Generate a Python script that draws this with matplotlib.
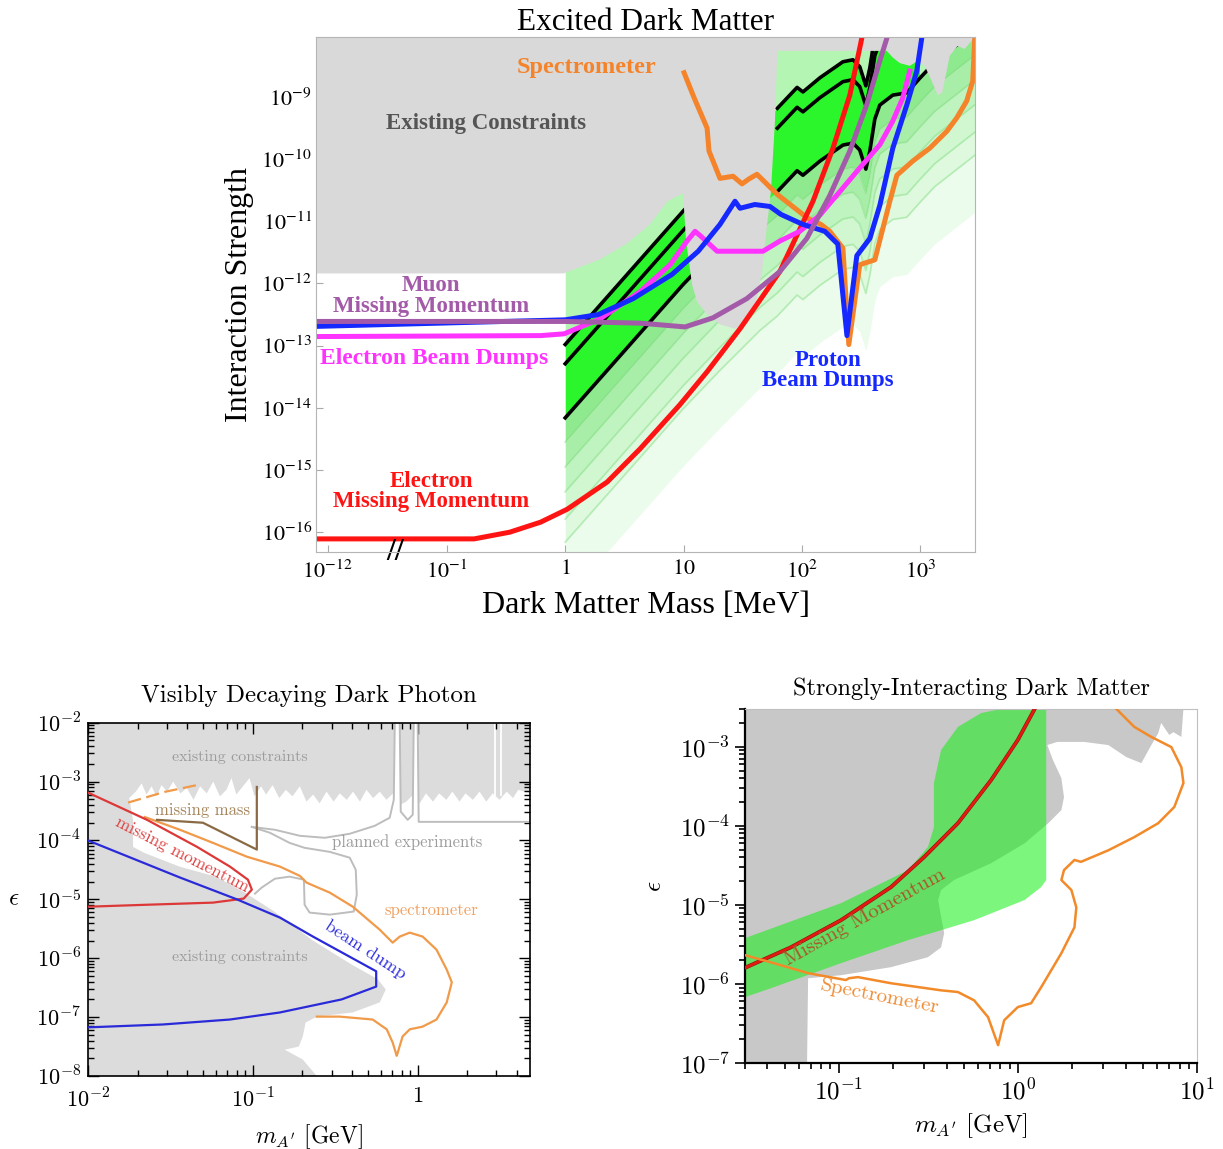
import numpy as np
import matplotlib
matplotlib.use('Agg')
import matplotlib.pyplot as plt
from matplotlib import patheffects as pe
from matplotlib import transforms
from matplotlib.ticker import LogLocator, NullLocator, NullFormatter

plt.rcParams['font.family'] = 'Liberation Serif'
plt.rcParams['mathtext.fontset'] = 'cm'

# ---------------- top panel: excited dark matter (mass in MeV) ----------------
red_mass = [8.5e-14, 0.17, 0.34, 0.62, 1.04, 2.26, 4.3, 9.3, 15.8, 30, 65, 124, 183, 254, 321]
red_strength = [7.8e-17, 7.8e-17, 1.0e-16, 1.45e-16, 2.34e-16, 6.4e-16, 2.2e-15, 1.12e-14,
                3.8e-14, 1.87e-13, 1.55e-12, 2.1e-11, 1.5e-10, 1.07e-9, 8.9e-9]

blue_mass = [8.5e-14, 1.0, 1.9, 3.75, 8.0, 13.3, 20.3, 27.2, 30, 40, 53.7, 66.5, 102, 156,
             201, 240, 291, 375, 455, 586, 769, 934, 1030]
blue_strength = [2.04e-13, 2.6e-13, 3.16e-13, 5.7e-13, 1.4e-12, 3.3e-12, 8.9e-12, 2.1e-11,
                 1.62e-11, 1.86e-11, 1.73e-11, 1.29e-11, 8.9e-12, 6.9e-12, 4.3e-12, 1.45e-13,
                 2.8e-12, 5.3e-12, 1.8e-11, 1.5e-10, 7.4e-10, 2.6e-9, 8.9e-9]

magenta_mass = [8.5e-14, 0.62, 0.98, 1.97, 4.3, 7.7, 10.7, 12.5, 13.8, 19.2, 46.9, 65, 96,
                142, 209, 308, 455, 586, 711, 815]
magenta_strength = [1.4e-13, 1.45e-13, 1.55e-13, 2.7e-13, 7.4e-13, 2.0e-12, 4.8e-12, 6.9e-12,
                    5.9e-12, 3.3e-12, 3.3e-12, 4.8e-12, 6.9e-12, 1.26e-11, 3.0e-11, 7.2e-11,
                    1.7e-10, 4.1e-10, 9.6e-10, 2.6e-9]

purple_mass = [8.5e-14, 1.0, 4.3, 10.3, 17.7, 34.2, 65, 110, 172, 254, 352, 455, 523]
purple_strength = [2.45e-13, 2.45e-13, 2.3e-13, 2.0e-13, 2.8e-13, 5.7e-13, 1.55e-12, 5.3e-12,
                   2.6e-11, 1.35e-10, 7.4e-10, 3.8e-9, 8.9e-9]

orange_mass = [10.1, 12.3, 15.8, 16.4, 20.3, 26.2, 31.2, 35.7, 41.7, 62, 87, 112, 145, 172,
               222, 249, 308, 413, 553, 634, 864, 1203, 1675, 2033, 2467, 2775, 2885]
orange_strength = [2.45e-9, 9.6e-10, 3.16e-10, 1.35e-10, 4.9e-11, 5.3e-11, 4.0e-11, 4.8e-11,
                   5.7e-11, 2.7e-11, 1.63e-11, 1.12e-11, 8.9e-12, 6.9e-12, 3.7e-12, 1.04e-13,
                   2.0e-12, 2.4e-12, 2.1e-11, 5.5e-11, 9.3e-11, 1.5e-10, 2.8e-10, 4.6e-10,
                   8.6e-10, 1.8e-9, 8.9e-9]

# lowest black contour of the thermal-target band; other contours are offsets of it (decades)
band_mass = [1.0, 9.9, 20.3, 44, 62, 91, 102, 142, 222, 270, 308, 347, 375, 413, 455, 586,
             769, 991, 1324, 2885]
band_strength = [6.9e-15, 9.6e-13, 4.0e-12, 1.74e-11, 3.0e-11, 6.5e-11, 5.5e-11, 9.3e-11,
                 1.68e-10, 1.81e-10, 1.40e-10, 6.9e-11, 1.35e-10, 4.4e-10, 7.4e-10, 1.07e-9,
                 1.16e-9, 2.0e-9, 3.6e-9, 1.15e-8]
contour_offsets_low = [1.18, 0.87, 0.0]    # below 60 MeV
contour_offsets_high = [1.34, 1.02, 0.0]   # above 60 MeV
fade_offsets = [0.0, -0.39, -0.79, -1.19, -1.63, -2.0, -2.92]
fade_colors = ['#8fe98f', '#a8eea8', '#bff3bf', '#d0f7d0', '#def9de', '#ecfcec']

gray_mass = [8.5e-14, 0.97, 1.97, 3.33, 5.2, 7.3, 9.9, 10.5, 11.8, 13.0, 15.8, 20.3, 27.2, 35,
             41.7, 46, 50.7, 54.7, 59.2, 62, 521, 586, 671, 815, 952, 1091, 1250, 1405, 1530,
             1640, 1775, 2070, 2375, 2620, 2900]
gray_strength = [1.45e-12, 1.45e-12, 2.45e-12, 4.4e-12, 8.9e-12, 2.1e-11, 2.8e-11, 4.8e-12,
                 9.6e-13, 5.1e-13, 3.16e-13, 2.2e-13, 1.87e-13, 2.3e-13, 5.7e-13, 1.55e-12,
                 8.7e-12, 3.0e-11, 4.1e-10, 5.5e-9, 5.5e-9, 4.3e-9, 3.5e-9, 3.16e-9, 3.8e-9,
                 3.16e-9, 1.8e-9, 1.07e-9, 1.16e-9, 2.2e-9, 4.6e-9, 6.6e-9, 5.9e-9, 7.4e-9, 9.2e-9]

top_xticks = [1e-12, 0.1, 1, 10, 100, 1000]
top_xlabels = [r'$10^{-12}$', r'$10^{-1}$', r'$1$', r'$10$', r'$10^{2}$', r'$10^{3}$']
top_yticks = [1e-16, 1e-15, 1e-14, 1e-13, 1e-12, 1e-11, 1e-10, 1e-9]

# ---------------- bottom left: visibly decaying dark photon (GeV) ----------------
vd_red_mass = [0.01, 0.0228, 0.0458, 0.0726, 0.0933, 0.0986, 0.088, 0.0573, 0.0228, 0.01]
vd_red_eps = [6.5e-4, 2.24e-4, 7.8e-5, 3.6e-5, 2.16e-5, 1.46e-5, 1.03e-5, 8.8e-6, 8.1e-6, 7.5e-6]

vd_blue_mass = [0.01, 0.0361, 0.080, 0.146, 0.231, 0.56, 0.56, 0.346, 0.146, 0.0726, 0.0285, 0.01]
vd_blue_eps = [1.0e-4, 2.35e-5, 1.0e-5, 4.9e-6, 2.34e-6, 6.0e-7, 3.3e-7, 2.0e-7, 1.2e-7,
               9.1e-8, 7.5e-8, 6.7e-8]

vd_orange_mass = [0.0221, 0.0361, 0.0573, 0.092, 0.146, 0.193, 0.212, 0.293, 0.404, 0.588,
                  0.705, 0.778, 0.895, 1.072, 1.30, 1.50, 1.61, 1.50, 1.30, 1.072, 0.895,
                  0.81, 0.757, 0.746, 0.705, 0.649, 0.533, 0.336, 0.244]
vd_orange_eps = [2.5e-4, 1.52e-4, 9.1e-5, 5.3e-5, 3.6e-5, 2.5e-5, 1.92e-5, 1.3e-5, 7.5e-6,
                 3.06e-6, 1.84e-6, 2.33e-6, 2.72e-6, 2.33e-6, 1.4e-6, 6.4e-7, 3.9e-7, 1.78e-7,
                 9.1e-8, 6.9e-8, 6.2e-8, 4.7e-8, 2.5e-8, 2.2e-8, 3.7e-8, 6.2e-8, 9.1e-8,
                 1.02e-7, 1.02e-7]
vd_orange_dash_mass = [0.0175, 0.0293, 0.0465]
vd_orange_dash_eps = [4.4e-4, 6.7e-4, 8.8e-4]

vd_brown_mass = [0.0262, 0.0498, 0.1057, 0.1057]
vd_brown_eps = [2.24e-4, 2.0e-4, 7.0e-5, 8.1e-4]

# jagged lower edge of the upper excluded region (log10 GeV, log10 eps), left to right
vd_edge_logm = [-1.75, -1.71, -1.675, -1.645, -1.614, -1.585, -1.554, -1.52, -1.483, -1.44,
                -1.40, -1.36, -1.32, -1.28, -1.24, -1.20, -1.16, -1.13, -1.10, -1.06, -1.02,
                -0.99, -0.95, -0.92, -0.88, -0.84, -0.80, -0.76, -0.715, -0.675, -0.634,
                -0.595, -0.553, -0.51, -0.473, -0.43, -0.392, -0.35, -0.311, -0.27, -0.23,
                -0.19, -0.149, -0.11, -0.069, -0.03, 0.012, 0.05, 0.093, 0.13, 0.174, 0.21,
                0.254, 0.29, 0.335, 0.375, 0.416, 0.455, 0.497, 0.54, 0.578, 0.61, 0.69]
vd_edge_logeps = [-3.28, -3.17, -3.03, -3.22, -3.08, -3.25, -3.06, -3.17, -3.0, -3.20, -3.11,
                  -3.31, -3.08, -3.20, -3.0, -3.25, -3.14, -2.94, -3.22, -3.08, -2.94, -3.25,
                  -3.08, -3.22, -3.06, -3.28, -3.14, -3.25, -3.08, -3.34, -3.22, -3.37, -3.17,
                  -3.34, -3.20, -3.31, -3.17, -3.34, -3.14, -3.28, -3.17, -3.31, -3.20, -3.40,
                  -3.34, -3.23, -3.37, -3.20, -3.34, -3.20, -3.31, -3.17, -3.34, -3.20, -3.31,
                  -3.17, -3.34, -3.20, -3.31, -3.17, -3.28, -3.14, -3.2]
# lower excluded region, from the left wall down to the bottom axis
vd_low_mass = [0.01875, 0.01875, 0.0218, 0.0361, 0.0597, 0.0895, 0.134, 0.231, 0.404, 0.573,
               0.64, 0.589, 0.404, 0.244, 0.209, 0.201, 0.19, 0.156, 0.201, 0.244]
vd_low_eps = [2.24e-4, 7.8e-5, 6.2e-5, 3.58e-5, 2.43e-5, 1.3e-5, 6.3e-6, 2.0e-6, 7.6e-7,
              4.4e-7, 2.95e-7, 1.78e-7, 1.2e-7, 1.02e-7, 8.1e-8, 4.7e-8, 3.16e-8, 2.8e-8,
              1.9e-8, 1e-8]

planned_a_mass = [0.0986, 0.136, 0.193, 0.273, 0.387, 0.548, 0.676, 0.716, 0.726]
planned_a_eps = [1.7e-4, 1.52e-4, 1.2e-4, 1.11e-4, 1.3e-4, 1.77e-4, 2.43e-4, 4.9e-4, 1e-2]
planned_b_mass = [0.778, 0.789, 0.869, 0.933, 0.946]
planned_b_eps = [1e-2, 3.09e-4, 2.24e-4, 2.73e-4, 1e-2]
planned_c_mass = [1.0, 1.014, 4.8]
planned_c_eps = [1e-2, 2.07e-4, 2.07e-4]
planned_d_mass = [0.0986, 0.127, 0.167, 0.206, 0.293, 0.387, 0.421, 0.427, 0.409, 0.293,
                  0.221, 0.206, 0.204, 0.167, 0.136, 0.113, 0.103]
planned_d_eps = [1.7e-4, 1.35e-4, 9.1e-5, 7.5e-5, 6.4e-5, 5.1e-5, 3.18e-5, 1.2e-5, 6.2e-6,
                 5.5e-6, 5.96e-6, 8.1e-6, 2.16e-5, 2.43e-5, 2.24e-5, 1.58e-5, 1.25e-5]
resonance_gaps = [2.93, 3.18]

# ---------------- bottom right: strongly-interacting dark matter (GeV) ----------------
si_gray_mass = [0.03, 8.4, 8.18, 7.38, 7.0, 6.31, 6.08, 5.48, 4.89, 4.03, 3.20, 2.34, 1.66,
                1.46, 1.57, 1.75, 1.81, 1.75, 1.48, 1.09, 0.71, 0.44, 0.373, 0.359, 0.373,
                0.388, 0.373, 0.315, 0.196, 0.103, 0.0675, 0.0666, 0.03]
si_gray_eps = [3e-3, 3e-3, 1.33e-3, 1.53e-3, 1.41e-3, 2.0e-3, 1.49e-3, 9.9e-4, 6.2e-4, 7.4e-4,
               1.05e-3, 1.15e-3, 1.15e-3, 1.05e-3, 6.8e-4, 4.0e-4, 2.3e-4, 1.58e-4, 1.08e-4,
               6.0e-5, 3.37e-5, 2.06e-5, 1.54e-5, 1.15e-5, 7.0e-6, 4.4e-6, 2.9e-6, 2.18e-6,
               1.63e-6, 1.29e-6, 1.18e-6, 1e-7, 1e-7]

si_green_mass = [0.03, 0.103, 0.244, 0.315, 0.340, 0.340, 0.373, 0.463, 0.624, 0.807, 1.44,
                 1.44, 1.35, 1.09, 0.570, 0.244, 0.103, 0.0435, 0.03]
si_green_eps = [3.8e-6, 1.05e-5, 2.75e-5, 5.4e-5, 9.6e-5, 3.47e-4, 9.1e-4, 1.78e-3, 2.67e-3,
                3e-3, 3e-3, 2.06e-5, 1.68e-5, 1.15e-5, 6.4e-6, 3.58e-6, 1.83e-6, 9.1e-7, 6.8e-7]

si_red_mass = [0.03, 0.054, 0.103, 0.196, 0.299, 0.463, 0.71, 1.0, 1.26]
si_red_eps = [1.6e-6, 2.9e-6, 6.4e-6, 1.68e-5, 4.0e-5, 1.08e-4, 3.8e-4, 1.22e-3, 3.2e-3]

si_orange_mass = [0.03, 0.0435, 0.0675, 0.1097, 0.114, 0.128, 0.196, 0.373, 0.463, 0.570,
                  0.682, 0.776, 0.839, 1.0, 1.186, 1.35, 1.75, 2.07, 2.12, 1.99, 1.75, 1.81,
                  2.07, 2.25, 3.20, 4.47, 6.08, 7.47, 8.4, 8.18, 7.19, 5.56, 4.47, 3.45]
si_orange_eps = [2.31e-6, 1.83e-6, 1.37e-6, 1.12e-6, 1.18e-6, 1.22e-6, 1.02e-6, 8.3e-7,
                 7.9e-7, 6.2e-7, 3.8e-7, 1.68e-7, 3.47e-7, 5.1e-7, 5.7e-7, 9.1e-7, 2.45e-6,
                 5.2e-6, 9.3e-6, 1.54e-5, 2.06e-5, 2.75e-5, 3.7e-5, 3.5e-5, 4.9e-5, 7.2e-5,
                 1.08e-4, 1.73e-4, 3.47e-4, 5.5e-4, 9.9e-4, 1.33e-3, 1.78e-3, 3.2e-3]

# ------------------------------------------------------------------------------------
K = 0.0916  # compression of the decades below 0.1 MeV on the broken axis


def _fwd(x):
    lx = np.log10(np.clip(np.asarray(x, dtype=float), 1e-300, None))
    return np.where(lx >= -1, lx, -1 + (lx + 1) * K)


def _inv(u):
    u = np.asarray(u, dtype=float)
    with np.errstate(over='ignore'):
        return np.where(u >= -1, 10.0 ** u, 10.0 ** (-1 + (u + 1) / K))


fig = plt.figure(figsize=(12.23, 11.49), dpi=100)
W, H = 1223, 1149

# ======================= top panel =======================
ax = fig.add_axes([316 / W, 1 - 552 / H, 659 / W, 515 / H])
ax.set_xscale('function', functions=(_fwd, _inv))
ax.set_yscale('log')
ax.set_xlim(8.5e-14, 2900)
ax.set_ylim(4.8e-17, 9.2e-9)

bm = np.array(band_mass)
bs = np.array(band_strength)
TOP = 1e-6
for k, col in enumerate(fade_colors):
    ax.fill_between(bm, bs * 10 ** fade_offsets[k + 1], bs * 10 ** fade_offsets[k],
                    color=col, lw=0, zorder=1)
for off in fade_offsets[1:-1]:
    ax.plot(bm, bs * 10 ** off, color='#80dc80', lw=1.3, alpha=0.45, zorder=1.2)

lo = slice(0, 4)
hi = slice(3, 18)
ax.fill_between(bm[lo], bs[lo] * 10 ** contour_offsets_low[0], TOP, color='#b4f5b4', lw=0, zorder=1.1)
ax.fill_between(bm[lo], bs[lo], bs[lo] * 10 ** contour_offsets_low[0], color='#2bf52b', lw=0, zorder=1.1)
ax.fill_between(bm[hi], bs[hi] * 10 ** contour_offsets_high[0], TOP, color='#b4f5b4', lw=0, zorder=1.1)
ax.fill_between(bm[hi], bs[hi], bs[hi] * 10 ** contour_offsets_high[0], color='#2bf52b', lw=0, zorder=1.1)
ax.fill_between(bm[17:], bs[17:], TOP, color='#b4f5b4', lw=0, zorder=1.1)

for off in contour_offsets_low:
    ax.plot(bm[:3], bs[:3] * 10 ** off, color='black', lw=2.6, zorder=2)
for off in contour_offsets_high:
    ax.plot(bm[4:], bs[4:] * 10 ** off, color='black', lw=2.6, zorder=2)

ax.fill(gray_mass + [2900, 8.5e-14], gray_strength + [TOP, TOP], color='#d9d9d9', lw=0, zorder=3)

LW = 3.6
ax.plot(orange_mass, orange_strength, color='#f5832a', lw=LW, zorder=4)
ax.plot(red_mass, red_strength, color='#ff1414', lw=LW, zorder=4.1)
ax.plot(magenta_mass, magenta_strength, color='#ff33ff', lw=LW, zorder=4.2)
ax.plot(blue_mass, blue_strength, color='#1428ff', lw=LW, zorder=4.3)
ax.plot(purple_mass, purple_strength, color='#a35aa8', lw=LW, zorder=4.4)

lab = dict(transform=ax.transAxes, ha='center', va='center', fontweight='bold',
           fontsize=16.5, linespacing=0.95, zorder=6)
ax.text(0.411, 0.940, 'Spectrometer', color='#f5832a', **{**lab, 'fontsize': 17.5})
ax.text(0.258, 0.833, 'Existing Constraints', color='#555555', **{**lab, 'fontsize': 16.5})
ax.text(0.1745, 0.497, 'Muon\nMissing Momentum', color='#a35aa8', **lab)
ax.text(0.179, 0.375, 'Electron Beam Dumps', color='#ff33ff', **{**lab, 'fontsize': 17})
ax.text(0.777, 0.352, 'Proton\nBeam Dumps', color='#1428ff', **lab)
ax.text(0.1745, 0.117, 'Electron\nMissing Momentum', color='#ff1414', **lab)

brk = transforms.blended_transform_factory(ax.transData, ax.transAxes)
ax.text(1.6e-6, 0.0, '//', transform=brk, ha='center', va='center', fontsize=23,
        fontweight='bold', clip_on=False, zorder=7)

ax.set_xticks(top_xticks, top_xlabels, math_fontfamily='stix', fontsize=16)
ax.set_yticks(top_yticks, [r'$10^{%d}$' % e for e in range(-16, -8)],
              math_fontfamily='stix', fontsize=16)
ax.xaxis.set_minor_locator(NullLocator())
ax.yaxis.set_minor_locator(NullLocator())
ax.tick_params(direction='in', length=5, color='#aaaaaa', pad=3)
ax.tick_params(axis='x', pad=6)
for s in ax.spines.values():
    s.set_color('#b5b5b5')
    s.set_zorder(8)
ax.set_title('Excited Dark Matter', fontsize=22.5, pad=3)
ax.set_xlabel('Dark Matter Mass [MeV]', fontsize=23, labelpad=6)
ax.set_ylabel('Interaction Strength', fontsize=23, labelpad=5)

# ======================= bottom left =======================
ax2 = fig.add_axes([88 / W, 1 - 1076 / H, 442 / W, 353.3 / H])
ax2.set_xscale('log')
ax2.set_yscale('log')
ax2.set_xlim(0.01, 4.8)
ax2.set_ylim(1e-8, 1e-2)

edge_m = list(10 ** np.array(vd_edge_logm))
edge_e = list(10 ** np.array(vd_edge_logeps))
poly_m = [0.01, 4.8] + edge_m[::-1] + vd_low_mass + [0.01]
poly_e = [1e-2, 1e-2] + edge_e[::-1] + vd_low_eps + [1e-8]
ax2.fill(poly_m, poly_e, color='#dcdcdc', lw=0, zorder=1)
ax2.fill([0.716, 0.726, 0.778, 0.789], [4.9e-4, 1e-2, 1e-2, 3.09e-4], color='white', lw=0, zorder=1.1)
ax2.fill([0.933, 0.946, 1.0, 1.014], [2.73e-4, 1e-2, 1e-2, 2.07e-4], color='white', lw=0, zorder=1.1)
for g in resonance_gaps:
    ax2.plot([g, g], [1e-2, 6e-4], color='white', lw=1.3, zorder=1.1)

pc = dict(color='#bdbdbd', lw=1.4, zorder=2)
ax2.plot(planned_a_mass, planned_a_eps, **pc)
ax2.plot(planned_b_mass, planned_b_eps, **pc)
ax2.plot(planned_c_mass, planned_c_eps, **pc)
ax2.plot(planned_d_mass, planned_d_eps, **pc)

ax2.plot(vd_orange_mass, vd_orange_eps, color='#f09a4a', lw=1.6, zorder=3)
ax2.plot(vd_orange_dash_mass, vd_orange_dash_eps, color='#f09a4a', lw=1.6, ls=(0, (6, 2.5)), zorder=3)
ax2.plot(vd_brown_mass, vd_brown_eps, color='#8a6a45', lw=1.6, zorder=3)
ax2.plot(vd_red_mass, vd_red_eps, color='#dd3838', lw=1.6, zorder=3.1)
ax2.plot(vd_blue_mass, vd_blue_eps, color='#2a2ad8', lw=1.6, zorder=3.2)

cm = dict(transform=ax2.transAxes, ha='center', va='center', family='cmr10', zorder=5)
ax2.text(0.344, 0.904, 'existing constraints', color='#9c9c9c', fontsize=11.5, **cm)
ax2.text(0.344, 0.337, 'existing constraints', color='#9c9c9c', fontsize=11.5, **cm)
ax2.text(0.260, 0.753, 'missing mass', color='#a5865c', fontsize=12, **cm)
ax2.text(0.212, 0.628, 'missing momentum', color='#dd4040', fontsize=12.5, rotation=-27,
         rotation_mode='anchor', **cm)
ax2.text(0.722, 0.662, 'planned experiments', color='#9c9c9c', fontsize=12, **cm)
ax2.text(0.776, 0.470, 'spectrometer', color='#f0a060', fontsize=12, **cm)
ax2.text(0.627, 0.357, 'beam dump', color='#3030dd', fontsize=13, rotation=-33,
         rotation_mode='anchor', **cm)

ax2.set_xticks([0.01, 0.1, 1], [r'$10^{-2}$', r'$10^{-1}$', r'$1$'], fontsize=16)
ax2.set_yticks([10.0 ** e for e in range(-8, -1)], [r'$10^{%d}$' % e for e in range(-8, -1)], fontsize=16)
for a in (ax2.xaxis, ax2.yaxis):
    a.set_minor_locator(LogLocator(base=10, subs=np.arange(2, 10)))
    a.set_minor_formatter(NullFormatter())
ax2.tick_params(which='both', direction='in', top=True, right=True, width=1)
ax2.tick_params(which='major', length=8, pad=5)
ax2.tick_params(which='minor', length=4)
ax2.tick_params(axis='x', which='major', pad=9)
for s in ax2.spines.values():
    s.set_linewidth(1.2)
ax2.set_title('Visibly Decaying Dark Photon', family='cmr10', fontsize=18, pad=15)
ax2.set_xlabel(r"$m_{A'}$ [GeV]", family='cmr10', fontsize=17, labelpad=7)
ax2.set_ylabel(r'$\epsilon$', fontsize=18, rotation=0, labelpad=16, va='center')

# ======================= bottom right =======================
ax3 = fig.add_axes([745 / W, 1 - 1063 / H, 452 / W, 354 / H])
ax3.set_xscale('log')
ax3.set_yscale('log')
ax3.set_xlim(0.03, 10)
ax3.set_ylim(1e-7, 3e-3)

ax3.fill(si_gray_mass, si_gray_eps, color='#c8c8c8', lw=0, zorder=1)
ax3.fill(si_green_mass, si_green_eps, color='#10f010', alpha=0.55, lw=0, zorder=2)
ax3.plot(si_red_mass, si_red_eps, color='#e41a10', lw=1.9, zorder=3,
         path_effects=[pe.Stroke(linewidth=2.8, foreground='#8a1a10'), pe.Normal()])
ax3.plot(si_orange_mass, si_orange_eps, color='#f28a2a', lw=1.8, zorder=3)

cm3 = dict(transform=ax3.transAxes, ha='center', va='center', family='cmr10', zorder=5,
           rotation_mode='anchor')
ax3.text(0.265, 0.412, 'Missing Momentum', color='#a8582a', fontsize=15, rotation=29, **cm3)
ax3.text(0.299, 0.186, 'Spectrometer', color='#f08c34', fontsize=15, rotation=-11, **cm3)

ax3.set_xticks([0.1, 1, 10], [r'$10^{-1}$', r'$10^{0}$', r'$10^{1}$'], fontsize=18)
ax3.set_yticks([10.0 ** e for e in range(-7, -2)], [r'$10^{%d}$' % e for e in range(-7, -2)], fontsize=18)
for a in (ax3.xaxis, ax3.yaxis):
    a.set_minor_locator(LogLocator(base=10, subs=np.arange(2, 10)))
    a.set_minor_formatter(NullFormatter())
ax3.tick_params(which='both', direction='out', width=1.2)
ax3.tick_params(which='major', length=7, pad=4)
ax3.tick_params(which='minor', length=4)
for side in ('top', 'right'):
    ax3.spines[side].set_color('#c0c0c0')
    ax3.spines[side].set_linewidth(0.8)
for side in ('left', 'bottom'):
    ax3.spines[side].set_linewidth(1.6)
ax3.set_title('Strongly-Interacting Dark Matter', family='cmr10', fontsize=17.5, pad=10)
ax3.set_xlabel(r"$m_{A'}$ [GeV]", family='cmr10', fontsize=18, labelpad=5)
ax3.set_ylabel(r'$\epsilon$', fontsize=18, labelpad=10)

fig.savefig('out.png', dpi=100, facecolor='white')
